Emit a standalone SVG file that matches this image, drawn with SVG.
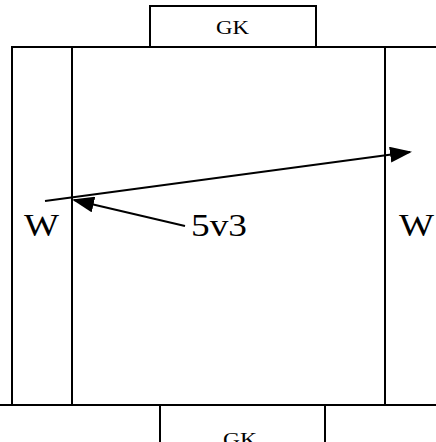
<svg xmlns="http://www.w3.org/2000/svg" width="436" height="442" viewBox="0 0 436 442">
<style>
.ln{stroke:#000;stroke-width:2;fill:none}
.bx{stroke:#000;stroke-width:2;fill:#fff}
.t{font-family:"Liberation Serif",serif;fill:#000}
.big{font-size:31px}
.gk{font-size:18px}
</style>
<defs>
<marker id="ah2" markerWidth="22" markerHeight="16" refX="20" refY="8" orient="auto" markerUnits="userSpaceOnUse" viewBox="0 0 22 16">
<path d="M0,0 L22,8 L0,16 Z" fill="#000"/>
</marker>
</defs>
<rect width="436" height="442" fill="#fff"/>
<g id="field">
<path class="ln" d="M12,405 L12,47 L436,47"/>
<line class="ln" x1="0" y1="405" x2="436" y2="405"/>
<line class="ln" x1="72" y1="47" x2="72" y2="405"/>
<line class="ln" x1="385" y1="47" x2="385" y2="405"/>
</g>
<g id="gk-top">
<rect class="bx" x="150" y="6" width="166" height="41"/>
<text class="t gk" x="216" y="34" textLength="33" lengthAdjust="spacingAndGlyphs">GK</text>
</g>
<g id="gk-bottom">
<rect class="bx" x="160" y="405" width="165" height="50"/>
<text class="t gk" x="223" y="446" textLength="34" lengthAdjust="spacingAndGlyphs">GK</text>
</g>
<g id="w-left"><text class="t big" x="24" y="236" textLength="35" lengthAdjust="spacingAndGlyphs">W</text></g>
<g id="w-right"><text class="t big" x="399" y="236" textLength="35" lengthAdjust="spacingAndGlyphs">W</text></g>
<g id="label-5v3"><text class="t big" x="191" y="236" textLength="56" lengthAdjust="spacingAndGlyphs">5v3</text></g>
<g id="connectors">
<line class="ln" x1="45" y1="201" x2="410" y2="152" stroke-width="2.5" marker-end="url(#ah2)"/>
<line class="ln" x1="185" y1="226" x2="74" y2="200" stroke-width="2.5" marker-end="url(#ah2)"/>
</g>
</svg>
